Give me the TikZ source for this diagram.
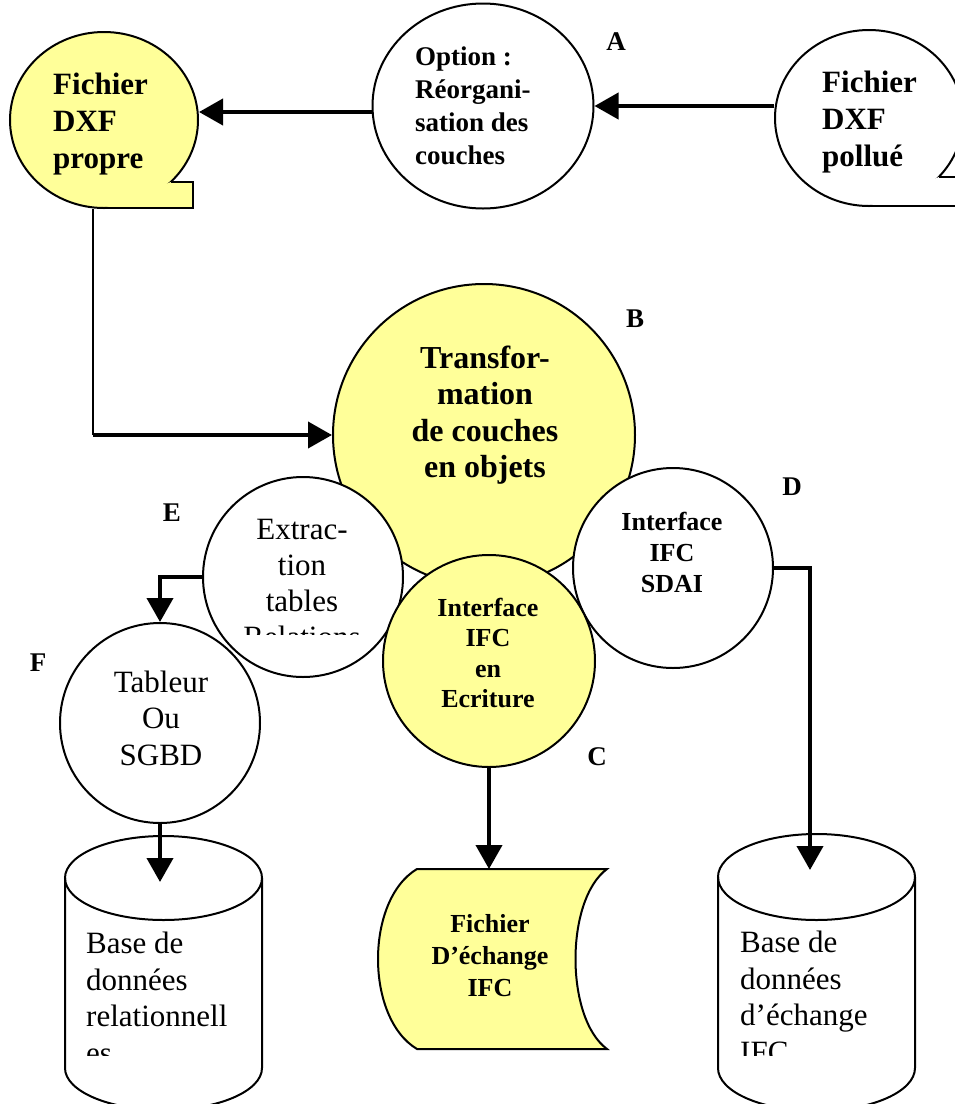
\documentclass[tikz,border=0pt]{standalone}
\usepackage{fontspec}
\setmainfont{Liberation Serif}
\usepackage{tikz}
\usetikzlibrary{positioning,calc,arrows.meta,shapes.geometric}
\definecolor{jaune}{HTML}{FFFF99}

\begin{document}
\begin{tikzpicture}[x=1pt,y=-1pt,
  forme/.style={draw=black,line width=2pt},
  rond/.style={forme,circle,inner sep=0pt},
  arr/.style={line width=4pt,-{Triangle[length=24pt,width=26pt]}},
  fin/.style={line width=2pt},
  txt/.style={inner sep=0pt},
  lettre/.style={inner sep=0pt,font=\fontsize{27}{30}\selectfont\bfseries}]
\useasboundingbox (0,0) rectangle (954,1104);
% fichiers DXF
\node[forme,ellipse,fill=jaune,inner sep=0pt,minimum width=188,minimum height=176] (propre) at (104,120) {};
\fill[jaune] (171,182) -- (193,182) -- (193,208) -- (104,208) -- cycle;
\draw[forme] (171,182) -- (193,182) -- (193,208) -- (100,208);
\node[txt,align=left,anchor=west,font=\fontsize{31}{37}\selectfont\bfseries] (propreTxt) at (53,124) {Fichier\\DXF\\propre};
\node[forme,ellipse,fill=white,inner sep=0pt,minimum width=188,minimum height=176] (pollue) at (869,118) {};
\fill[white] (939,177) -- (990,177) -- (990,206) -- (869,206) -- cycle;
\draw[forme] (939,177) -- (990,177) -- (990,206) -- (865,206);
\node[txt,align=left,anchor=west,font=\fontsize{31}{37}\selectfont\bfseries] (pollueTxt) at (822,122) {Fichier\\DXF\\pollué};
\node[forme,ellipse,inner sep=0pt,minimum width=221,minimum height=205] (optA) at (483,106) {};
\node[txt,align=left,anchor=west,font=\fontsize{27}{33}\selectfont\bfseries] (optATxt) at (415,106) {Option :\\Réorgani-\\sation des\\couches};
\draw[arr] (pollue.west |- optA.east) -- (optA.east);
\draw[arr] ([yshift=-6pt]optA.west) -- ([yshift=-6pt]optA.west -| propre.east);
% cercles du centre
\node[rond,fill=jaune,minimum size=302] (transfB) at (484,435) {};
\node[txt,align=center,font=\fontsize{32}{36.5}\selectfont\bfseries] (transfBTxt) at (485,415) {Transfor-\\mation\\de couches\\en objets};
\draw[fin] ([xshift=-11pt]propre.south) -- ([xshift=-11pt]propre.south |- transfB.west);
\draw[arr] ([xshift=-11pt]propre.south |- transfB.west) -- (transfB.west);
\node[rond,fill=white,minimum size=200] (extrE) at (303,577) {};
\begin{scope}
\clip (203,470) rectangle (403,634);
\node[txt,align=center,font=\fontsize{31}{36}\selectfont] (extrETxt) at (302,583) {Extrac-\\tion\\tables\\Relations};
\end{scope}
\node[rond,fill=white,minimum size=200] (sdaiD) at (673,568) {};
\node[txt,align=center,font=\fontsize{26}{31}\selectfont\bfseries] (sdaiDTxt) at (672,552) {Interface\\IFC\\SDAI};
\node[rond,fill=jaune,minimum size=212] (ecrC) at (489,661) {};
\node[txt,align=center,font=\fontsize{26}{30.3}\selectfont\bfseries] (ecrCTxt) at (488,653) {Interface\\IFC\\en\\Ecriture};
\node[rond,fill=white,minimum size=200] (tabF) at (160,723) {};
\node[txt,align=center,font=\fontsize{31}{36.5}\selectfont] (tabFTxt) at (161,718) {Tableur\\Ou\\SGBD};
% bases et fichier IFC
\draw[forme,fill=white] (65,878) -- (65,1068) arc[start angle=180,end angle=0,x radius=98.5,y radius=42] -- (262,878);
\draw[forme] (163.5,878) ellipse [x radius=98.5,y radius=42];
\begin{scope}
\clip (65,925) rectangle (262,1055);
\node[txt,align=left,anchor=west,font=\fontsize{31}{36.7}\selectfont] (bdrelTxt) at (86,998) {Base de\\données\\relationnell\\es};
\end{scope}
\draw[forme,fill=white] (718,877) -- (718,1068) arc[start angle=180,end angle=0,x radius=98.5,y radius=43] -- (915,877);
\draw[forme] (816.5,877) ellipse [x radius=98.5,y radius=43];
\begin{scope}
\clip (718,925) rectangle (915,1055);
\node[txt,align=left,anchor=west,font=\fontsize{31}{36.7}\selectfont] (bdifcTxt) at (740,997) {Base de\\données\\d’échange\\IFC};
\end{scope}
\draw[forme,fill=jaune] (417,869) -- (607,869) .. controls (565,900) and (565,1018) .. (607,1049) -- (417,1049) .. controls (365,1018) and (365,900) .. cycle;
\node[txt,align=center,font=\fontsize{26}{32}\selectfont\bfseries] (fichIFC) at (490,956) {Fichier\\D’échange\\IFC};
\coordinate (bdrelHaut) at (160,882);
\coordinate (bdifcHaut) at (810,870);
\coordinate (fichHaut) at (489,869);
\draw[arr] (extrE.west) -| (tabF.north);
\draw[arr] (tabF.south) -- (bdrelHaut);
\draw[arr] (ecrC.south) -- (fichHaut);
\draw[arr] (sdaiD.east) -| (bdifcHaut);
% lettres
\node[lettre] (lblA) at (616,42) {A};
\node[lettre] (lblB) at (635,319) {B};
\node[lettre] (lblC) at (597,757) {C};
\node[lettre] (lblD) at (792,487) {D};
\node[lettre] (lblE) at (172,513) {E};
\node[lettre] (lblF) at (38,663) {F};
\end{tikzpicture}
\end{document}
